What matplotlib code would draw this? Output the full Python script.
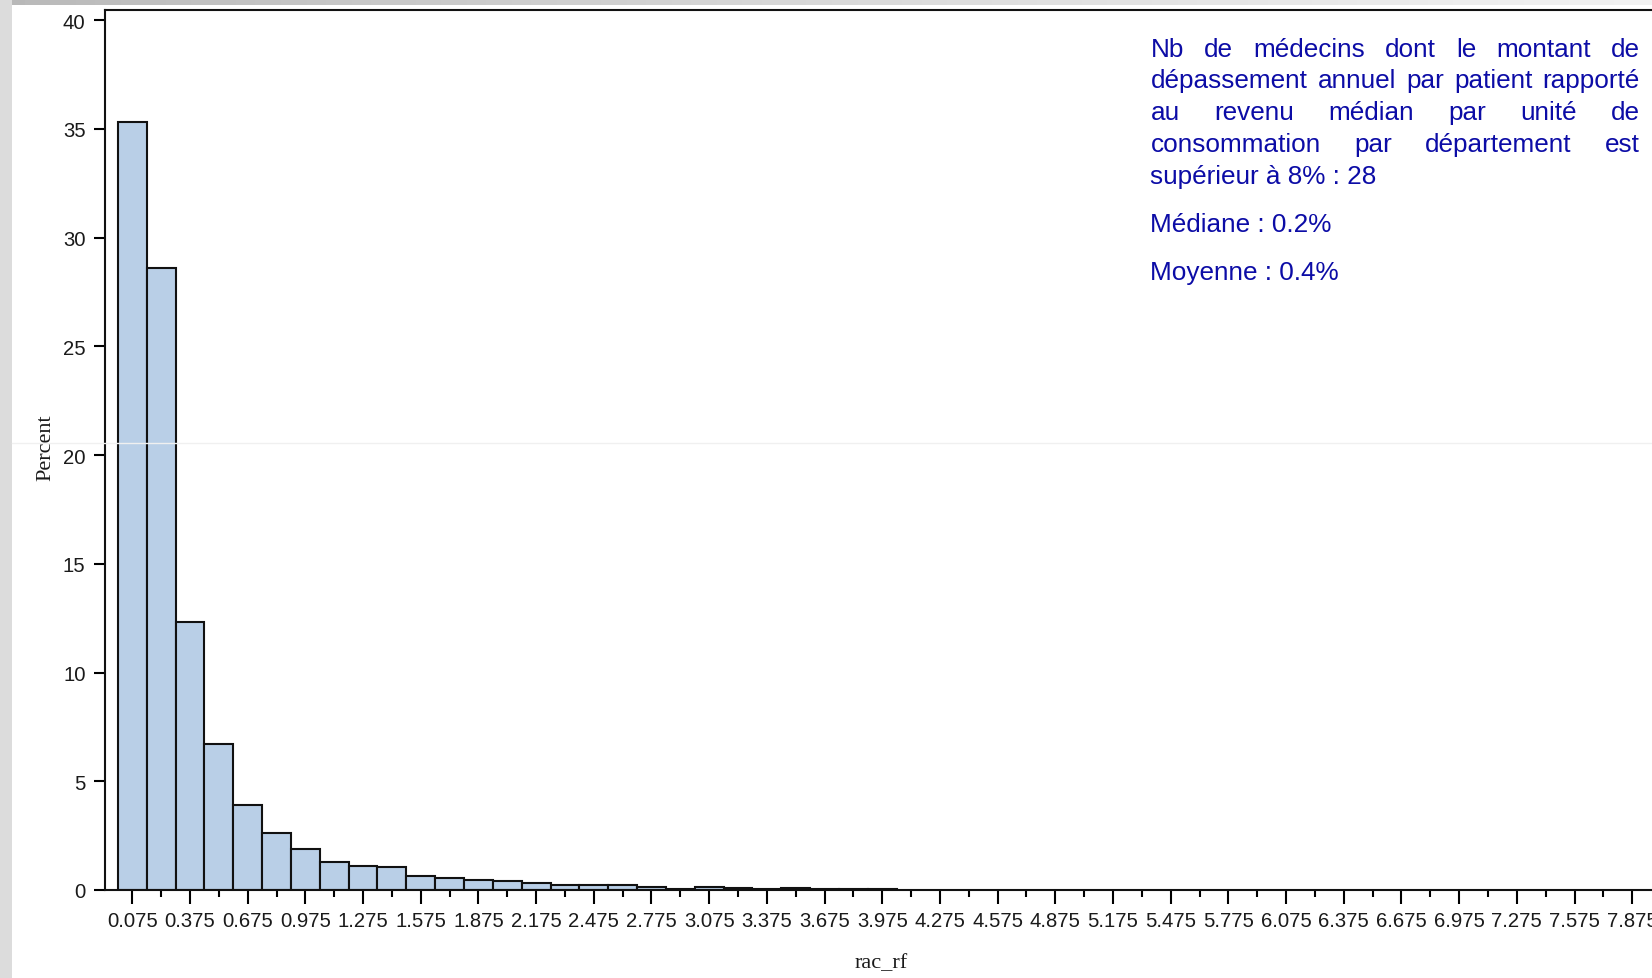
import numpy as np
import matplotlib
matplotlib.use("Agg")
import matplotlib.pyplot as plt
from matplotlib.patches import Rectangle
from matplotlib.lines import Line2D

# Histogramme rac_rf (largeur de classe 0.15)
bin_mids = [0.075, 0.225, 0.375, 0.525, 0.675, 0.825, 0.975, 1.125, 1.275,
            1.425, 1.575, 1.725, 1.875, 2.025, 2.175, 2.325, 2.475, 2.625,
            2.775, 2.925, 3.075, 3.225, 3.375, 3.525, 3.675, 3.825, 3.975]
percent = [35.3, 28.6, 12.3, 6.7, 3.9, 2.6, 1.87, 1.3, 1.12,
           1.05, 0.64, 0.55, 0.47, 0.40, 0.32, 0.24, 0.24, 0.25,
           0.15, 0.06, 0.16, 0.07, 0.06, 0.07, 0.06, 0.06, 0.06]
bin_width = 0.15

xtick_labels = ["0.075", "0.375", "0.675", "0.975", "1.275", "1.575", "1.875",
                "2.175", "2.475", "2.775", "3.075", "3.375", "3.675", "3.975",
                "4.275", "4.575", "4.875", "5.175", "5.475", "5.775", "6.075",
                "6.375", "6.675", "6.975", "7.275", "7.575", "7.875"]
yticks = [0, 5, 10, 15, 20, 25, 30, 35, 40]

# texte de l'encadré (lignes justifiées + stats)
note_lines = ["Nb de médecins dont le montant de",
              "dépassement annuel par patient rapporté",
              "au revenu médian par unité de",
              "consommation par département est",
              "supérieur à 8% : 28"]
stats_lines = ["Médiane : 0.2%", "Moyenne : 0.4%"]

W, H = 1652, 979
BLUE = '#0c0ca6'

fig = plt.figure(figsize=(W / 100, H / 100), dpi=100, facecolor='#dcdcdc')

# fond de la diapo : bande grise à gauche et en haut, zone blanche
fig.patches.append(Rectangle((12 / W, 0), 1, 1 - 6 / H, transform=fig.transFigure,
                             facecolor='white', edgecolor='none', zorder=-5))
grad = np.linspace(0, 1, 256).reshape(1, -1)
ax_top = fig.add_axes([12 / W, 1 - 6 / H, 1 - 12 / W, 6 / H])
ax_top.imshow(grad, aspect='auto', cmap='Greys_r', vmin=-2.2, vmax=1.4)
ax_top.axis('off')

# axes principal (dépasse à droite comme dans la capture)
ax = fig.add_axes([105 / W, 1 - 891 / H, 1552 / W, 880 / H])
ax.set_facecolor('white')
ax.bar(bin_mids, percent, width=bin_width, color='#b9cfe7', edgecolor='#111111',
       linewidth=1.5, align='center', zorder=2)

x_major = [float(s) for s in xtick_labels]
ax.set_xticks(x_major)
ax.set_xticklabels(xtick_labels)
ax.set_xticks([v + bin_width for v in x_major], minor=True)
ax.set_yticks(yticks)
ax.set_yticklabels([str(v) for v in yticks])
ax.set_xlim(-0.067, 8.004)
ax.set_ylim(0, 40.46)

ax.tick_params(axis='x', which='major', length=10, width=1.5, pad=5,
               labelsize=14.6, labelcolor='#1a1a1a')
ax.tick_params(axis='x', which='minor', length=5, width=1.5)
ax.tick_params(axis='y', length=8, width=1.5, pad=6, labelsize=14.6, labelcolor='#1a1a1a')
for lab in ax.get_xticklabels() + ax.get_yticklabels():
    lab.set_fontfamily('Liberation Sans')
for sp in ax.spines.values():
    sp.set_linewidth(1.5)
    sp.set_color('#111111')

fig.text(46 / W, 1 - 448 / H, "Percent", rotation=90, ha='center', va='center',
         fontsize=16, family='Liberation Serif', color='#1a1a1a')
fig.text(881 / W, 1 - 964 / H, "rac_rf", ha='center', va='center',
         fontsize=16, family='Liberation Serif', color='#1a1a1a')

# ligne parasite très claire de la capture
fig.lines.append(Line2D([12 / W, 1], [1 - 444 / H, 1 - 444 / H], transform=fig.transFigure,
                        color='#f0f0f0', linewidth=1, zorder=5))

# texte justifié
renderer = fig.canvas.get_renderer()
x0, x1 = 1150.5, 1640
baselines = [56.7, 88.3, 120.0, 152.3, 184.0]
tkw = dict(fontsize=18.8, family='Liberation Sans', color=BLUE, va='baseline')

for i, (line, yb) in enumerate(zip(note_lines, baselines)):
    yf = 1 - yb / H
    if i == len(note_lines) - 1:
        fig.text(x0 / W, yf, line, ha='left', **tkw)
        continue
    words = line.split()
    objs = [fig.text(0, yf, w, ha='left', **tkw) for w in words]
    widths = [o.get_window_extent(renderer).width for o in objs]
    gap = (x1 - x0 - sum(widths)) / (len(words) - 1)
    x = x0
    for o, w in zip(objs, widths):
        o.set_x(x / W)
        x += w + gap

for line, yb in zip(stats_lines, [232.3, 280.0]):
    fig.text(x0 / W, 1 - yb / H, line, ha='left', **tkw)

fig.savefig("out.png", dpi=100, facecolor=fig.get_facecolor())
